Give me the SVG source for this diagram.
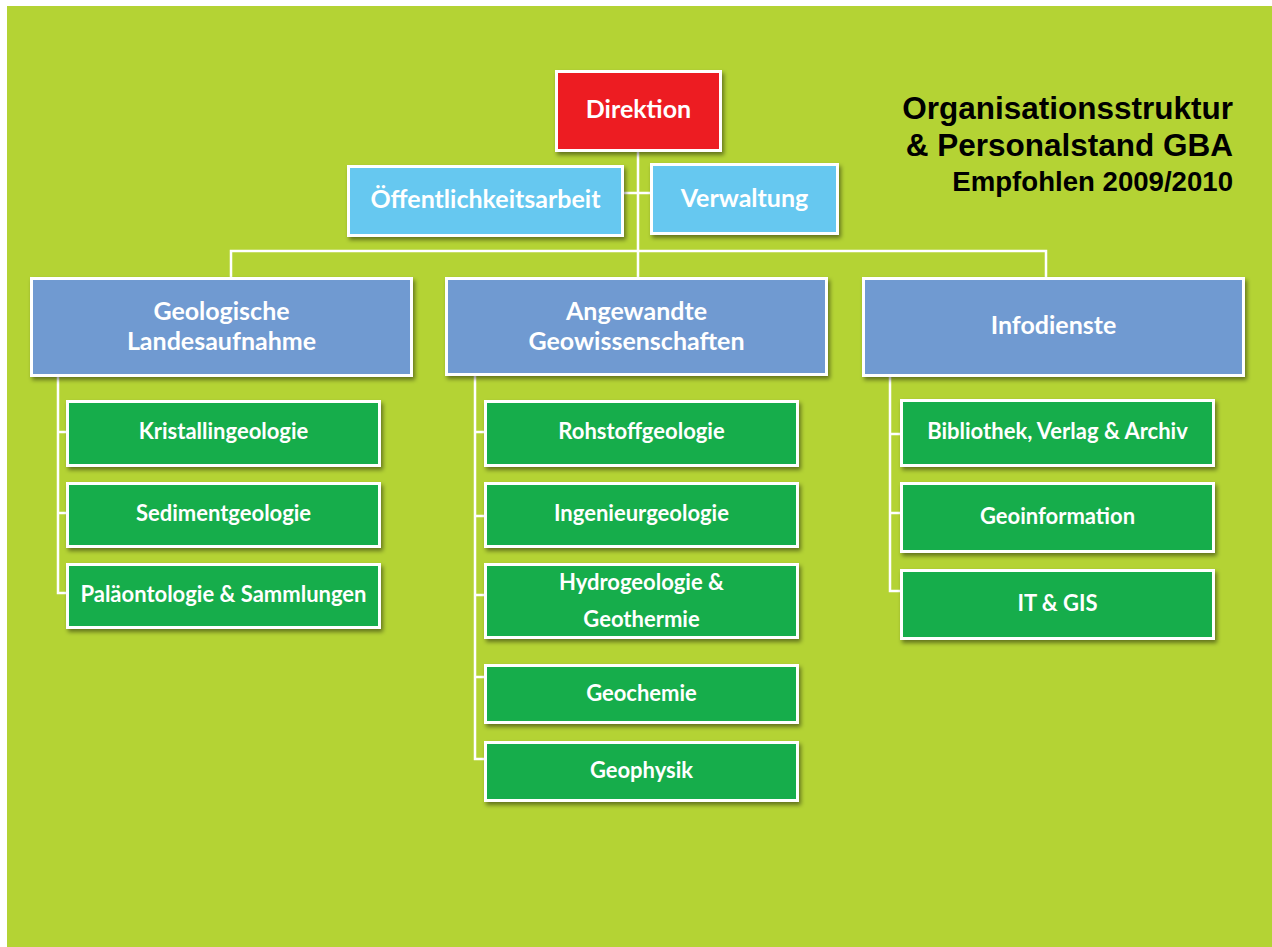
<svg xmlns="http://www.w3.org/2000/svg" width="1272" height="947" viewBox="0 0 1272 947">
<defs>
<filter id="sh" x="-10%" y="-10%" width="120%" height="130%">
<feDropShadow dx="2" dy="3" stdDeviation="2" flood-color="#000" flood-opacity="0.45"/>
</filter>
<style>
.box{stroke:#fff;stroke-width:3;filter:url(#sh);}
.red{fill:#ED1C24;}
.lb{fill:#66C8F0;}
.hb{fill:#6F9AD1;}
.gr{fill:#13AD4C;}
.t{font-family:Lato,"Open Sans","DejaVu Sans",sans-serif;font-weight:700;fill:#fff;text-anchor:middle;}
.t25{font-size:25px;}
.t22{font-size:22px;}
.ttl{font-family:"Liberation Sans",Arial,sans-serif;font-weight:700;fill:#000;text-anchor:end;}
.c{stroke:#fff;stroke-width:2.5;fill:none;}
</style>
</defs>
<rect x="0" y="0" width="1272" height="947" fill="#fff"/>
<rect x="7" y="6" width="1265" height="941" fill="#B4D334"/>

<g id="connectors">
<path class="c" d="M638 152V277M624 193H650M231 277V251H1046V277"/>
<path class="c" d="M58 377V593H66M58 432H66M58 513H66"/>
<path class="c" d="M475 375V759H484M475 432H484M475 516H484M475 595H484M475 677H484"/>
<path class="c" d="M890 377V591H900M890 434H900M890 513H900"/>
</g>

<g id="direktion"><rect class="box red" x="556.5" y="71.5" width="164" height="79"/><text class="t t25" x="638.5" y="118">Direktion</text></g>
<g id="oeffentlichkeitsarbeit"><rect class="box lb" x="348.5" y="166.5" width="274" height="69"/><text class="t t25" x="485.5" y="208">Öffentlichkeitsarbeit</text></g>
<g id="verwaltung"><rect class="box lb" x="651.5" y="164.5" width="186" height="69"/><text class="t t25" x="744.5" y="207">Verwaltung</text></g>

<g id="geologische"><rect class="box hb" x="31.5" y="278.5" width="380" height="97"/><text class="t t25" x="221.5" y="320">Geologische</text><text class="t t25" x="221.5" y="350">Landesaufnahme</text></g>
<g id="angewandte"><rect class="box hb" x="446.5" y="278.5" width="380" height="96"/><text class="t t25" x="636.5" y="320">Angewandte</text><text class="t t25" x="636.5" y="350">Geowissenschaften</text></g>
<g id="infodienste"><rect class="box hb" x="863.5" y="278.5" width="380" height="97"/><text class="t t25" x="1053.5" y="334">Infodienste</text></g>

<g id="kristallingeologie"><rect class="box gr" x="67.5" y="401.5" width="312" height="64"/><text class="t t22" x="223.5" y="439">Kristallingeologie</text></g>
<g id="sedimentgeologie"><rect class="box gr" x="67.5" y="483.5" width="312" height="63"/><text class="t t22" x="223.5" y="521">Sedimentgeologie</text></g>
<g id="palaeontologie"><rect class="box gr" x="67.5" y="564.5" width="312" height="63"/><text class="t t22" x="223.5" y="602">Paläontologie &amp; Sammlungen</text></g>

<g id="rohstoffgeologie"><rect class="box gr" x="485.5" y="401.5" width="312" height="64"/><text class="t t22" x="641.5" y="439">Rohstoffgeologie</text></g>
<g id="ingenieurgeologie"><rect class="box gr" x="485.5" y="483.5" width="312" height="63"/><text class="t t22" x="641.5" y="521">Ingenieurgeologie</text></g>
<g id="hydrogeologie"><rect class="box gr" x="485.5" y="564.5" width="312" height="73"/><text class="t t22" x="641.5" y="590">Hydrogeologie &amp;</text><text class="t t22" x="641.5" y="627">Geothermie</text></g>
<g id="geochemie"><rect class="box gr" x="485.5" y="665.5" width="312" height="57"/><text class="t t22" x="641.5" y="701">Geochemie</text></g>
<g id="geophysik"><rect class="box gr" x="485.5" y="742.5" width="312" height="58"/><text class="t t22" x="641.5" y="778">Geophysik</text></g>

<g id="bibliothek"><rect class="box gr" x="901.5" y="400.5" width="312" height="65"/><text class="t t22" x="1057.5" y="439">Bibliothek, Verlag &amp; Archiv</text></g>
<g id="geoinformation"><rect class="box gr" x="901.5" y="483.5" width="312" height="68"/><text class="t t22" x="1057.5" y="524">Geoinformation</text></g>
<g id="itgis"><rect class="box gr" x="901.5" y="570.5" width="312" height="68"/><text class="t t22" x="1057.5" y="611">IT &amp; GIS</text></g>

<g id="title">
<text class="ttl" x="1233" y="119" font-size="31.5">Organisationsstruktur</text>
<text class="ttl" x="1233" y="156" font-size="31.5">&amp; Personalstand GBA</text>
<text class="ttl" x="1233" y="191" font-size="27.6">Empfohlen 2009/2010</text>
</g>
</svg>
